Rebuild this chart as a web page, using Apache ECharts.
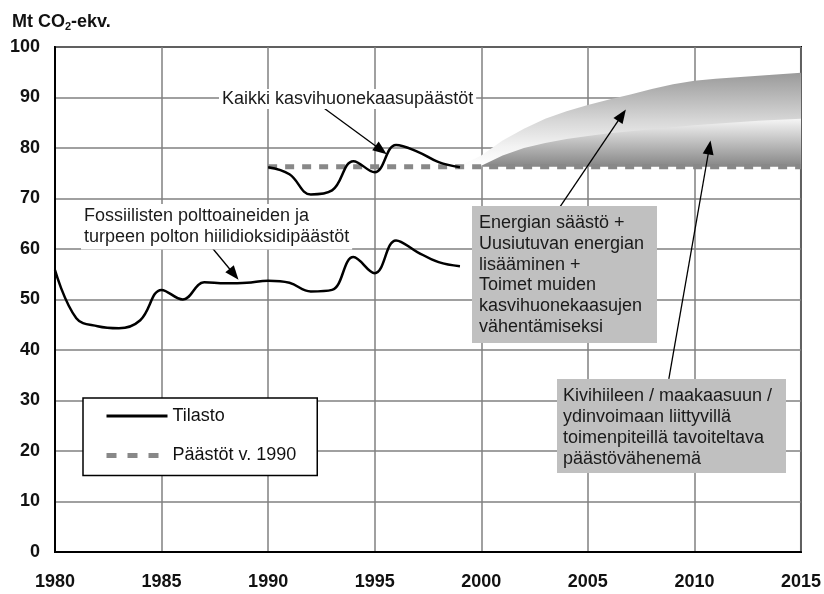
<!DOCTYPE html>
<html>
<head>
<meta charset="utf-8">
<script src="https://cdn.jsdelivr.net/npm/echarts@6/dist/echarts.min.js"></script>
<style>
  html, body { margin: 0; padding: 0; background: #fff; }
  #chart { width: 824px; height: 594px; }
</style>
</head>
<body>
<div id="chart"></div>
<script>
// ---- data ----
var fossilYears = [1980,1981,1982,1983,1984,1985,1986,1987,1988,1989,1990,1991,1992,1993,1994,1995,1996,1997,1998,1999];
var fossilValues = [55.8,46.3,44.7,44.3,45.9,51.9,50.0,53.4,53.2,53.3,53.7,53.3,51.6,51.9,58.4,55.2,61.7,59.4,57.4,56.6];

var totalYears = [1990,1991,1992,1993,1994,1995,1996,1997,1998,1999];
var totalValues = [76.2,74.8,70.8,71.6,77.4,75.2,80.6,79.3,77.2,76.2];

var level1990Years = [1990, 2015];
var level1990Value = 76.3;

var upperBandYears = [1999,2000,2001,2002,2003,2004,2005,2006,2007,2008,2009,2010,2011,2012,2013,2014,2015];
var upperBandTop   = [76.5,78.5,81.5,83.8,85.8,87.3,88.5,89.6,90.6,91.7,92.6,93.3,93.7,94.0,94.3,94.6,94.9];

var lowerBandYears = [2000,2001,2002,2003,2004,2005,2006,2007,2008,2009,2010,2011,2012,2013,2014,2015];
var lowerBandTop   = [76.5,78.5,80.0,81.0,81.8,82.4,82.9,83.3,83.7,84.1,84.5,84.8,85.1,85.4,85.6,85.8];

// arrows: [fromYear, fromValue, toYear, toValue]
var arrows = [
  [1992.1, 89.5, 1995.3, 79.6],
  [1987.4, 60.1, 1988.4, 55.0],
  [2003.7, 68.4, 2006.6, 86.5],
  [2008.8, 34.3, 2010.7, 80.1]
];

var xTicks = [1980, 1985, 1990, 1995, 2000, 2005, 2010, 2015];
var yTicks = [0, 10, 20, 30, 40, 50, 60, 70, 80, 90, 100];

var legendNames = ['Tilasto', 'Päästöt v. 1990'];
var labelTotal = 'Kaikki kasvihuonekaasupäästöt';
var labelFossil = 'Fossiilisten polttoaineiden ja\nturpeen polton hiilidioksidipäästöt';
var labelBox1 = 'Energian säästö +\nUusiutuvan energian\nlisääminen +\nToimet muiden\nkasvihuonekaasujen\nvähentämiseksi';
var labelBox2 = 'Kivihiileen / maakaasuun /\nydinvoimaan liittyvillä\ntoimenpiteillä tavoiteltava\npäästövähenemä';

// ---- build ----
function pairs(xs, ys) { return xs.map(function (x, i) { return [x, ys[i]]; }); }
var FONT = '"Liberation Sans", Arial, sans-serif';

var chart = echarts.init(document.getElementById('chart'));

var option = {
  animation: false,
  backgroundColor: '#fff',
  textStyle: { fontFamily: FONT },
  title: {
    text: 'Mt CO{s|2}-ekv.',
    left: 7, top: 8,
    textStyle: {
      fontFamily: FONT, fontSize: 18, fontWeight: 'bold', color: '#111',
      rich: { s: { fontFamily: FONT, fontSize: 11, fontWeight: 'bold', color: '#111', padding: [8, 0, 0, 0] } }
    }
  },
  grid: {
    left: 55, right: 21, top: 47, bottom: 42,
    show: true, borderColor: '#000', borderWidth: 2, backgroundColor: 'transparent'
  },
  legend: {
    orient: 'vertical',
    left: 83, top: 398,
    padding: [9, 21, 11, 21],
    itemWidth: 61, itemHeight: 18, itemGap: 21.5,
    itemGap: 21.5,
    borderColor: '#000', borderWidth: 1.5, backgroundColor: '#fff',
    itemStyle: { opacity: 0 },
    textStyle: { fontFamily: FONT, fontSize: 18, color: '#111' },
    selectedMode: false,
    data: [
      { name: legendNames[0], lineStyle: { width: 3, color: '#000', type: 'solid' } },
      { name: legendNames[1], lineStyle: { width: 5, color: '#888', type: [10, 11] } }
    ],
    z: 20
  },
  xAxis: {
    type: 'value', min: xTicks[0], max: xTicks[xTicks.length - 1], interval: 5,
    axisLine: { lineStyle: { color: '#000', width: 2 } },
    axisTick: { show: false },
    axisLabel: { margin: 21, fontFamily: FONT, fontSize: 18, fontWeight: 'bold', color: '#111',
      formatter: function (v) { return String(v); } },
    splitLine: { show: true, lineStyle: { color: '#808080', width: 1.5 } }
  },
  yAxis: {
    type: 'value', min: yTicks[0], max: yTicks[yTicks.length - 1], interval: 10,
    axisLine: { show: true, lineStyle: { color: '#000', width: 2 } },
    axisTick: { show: false },
    axisLabel: { margin: 15, fontFamily: FONT, fontSize: 18, fontWeight: 'bold', color: '#111' },
    splitLine: { show: true, lineStyle: { color: '#808080', width: 1.5 } }
  },
  series: [
    {
      name: 'upperBand', type: 'line', data: pairs(upperBandYears, upperBandTop),
      showSymbol: false, symbol: 'none', silent: true, z: 2,
      lineStyle: { width: 0 },
      areaStyle: {
        origin: level1990Value, opacity: 1,
        color: new echarts.graphic.LinearGradient(0, 0, 0, 1, [
          { offset: 0, color: '#9a9a9a' },
          { offset: 0.5, color: '#d6d6d6' },
          { offset: 0.78, color: '#f2f2f2' },
          { offset: 1, color: '#ffffff' }
        ])
      }
    },
    {
      name: 'lowerBand', type: 'line', data: pairs(lowerBandYears, lowerBandTop),
      showSymbol: false, symbol: 'none', silent: true, z: 3,
      lineStyle: { width: 0 },
      areaStyle: {
        origin: level1990Value, opacity: 1,
        color: new echarts.graphic.LinearGradient(0, 0, 0, 1, [
          { offset: 0, color: '#f6f6f6' },
          { offset: 1, color: '#868686' }
        ])
      }
    },
    {
      name: 'Päästöt v. 1990', type: 'line',
      data: level1990Years.map(function (y) { return [y, level1990Value]; }),
      showSymbol: false, symbol: 'none', z: 4,
      color: '#888',
      lineStyle: { color: '#888', width: 5, type: [9, 8] }
    },
    {
      name: 'Tilasto', type: 'line', data: pairs(fossilYears, fossilValues),
      smooth: 0.4, showSymbol: false, symbol: 'none', z: 5, color: '#000',
      lineStyle: { color: '#000', width: 2.5 },
      markLine: {
        silent: true, symbol: ['none', 'triangle'], symbolSize: [11, 14],
        label: { show: false },
        lineStyle: { color: '#000', width: 1.3, type: 'solid' },
        itemStyle: { color: '#000' },
        data: arrows.map(function (a) {
          return [{ coord: [a[0], a[1]] }, { coord: [a[2], a[3]] }];
        })
      }
    },
    {
      name: 'Tilasto', type: 'line', data: pairs(totalYears, totalValues),
      smooth: 0.4, showSymbol: false, symbol: 'none', z: 5, color: '#000',
      lineStyle: { color: '#000', width: 2.5 }
    }
  ],
  graphic: [
    {
      type: 'text', left: 219, top: 89, z: 30,
      style: { text: labelTotal, font: '18px ' + FONT, fill: '#1a1a1a',
        backgroundColor: '#fff', padding: [1, 3, 1, 3] }
    },
    {
      type: 'text', left: 81, top: 204, z: 30,
      style: { text: labelFossil, font: '18px ' + FONT, fill: '#1a1a1a', lineHeight: 20.7,
        backgroundColor: '#fff', padding: [2, 3, 2, 3] }
    },
    {
      type: 'rect', shape: { x: 472, y: 206, width: 185, height: 137 }, z: 30,
      style: { fill: '#c0c0c0' }
    },
    {
      type: 'text', left: 479, top: 213, z: 31,
      style: { text: labelBox1, font: '18px ' + FONT, fill: '#1a1a1a', lineHeight: 20.7 }
    },
    {
      type: 'rect', shape: { x: 557, y: 379, width: 229, height: 94 }, z: 30,
      style: { fill: '#c0c0c0' }
    },
    {
      type: 'text', left: 563, top: 385.5, z: 31,
      style: { text: labelBox2, font: '18px ' + FONT, fill: '#1a1a1a', lineHeight: 21 }
    }
  ]
};
chart.setOption(option);
</script>
</body>
</html>
